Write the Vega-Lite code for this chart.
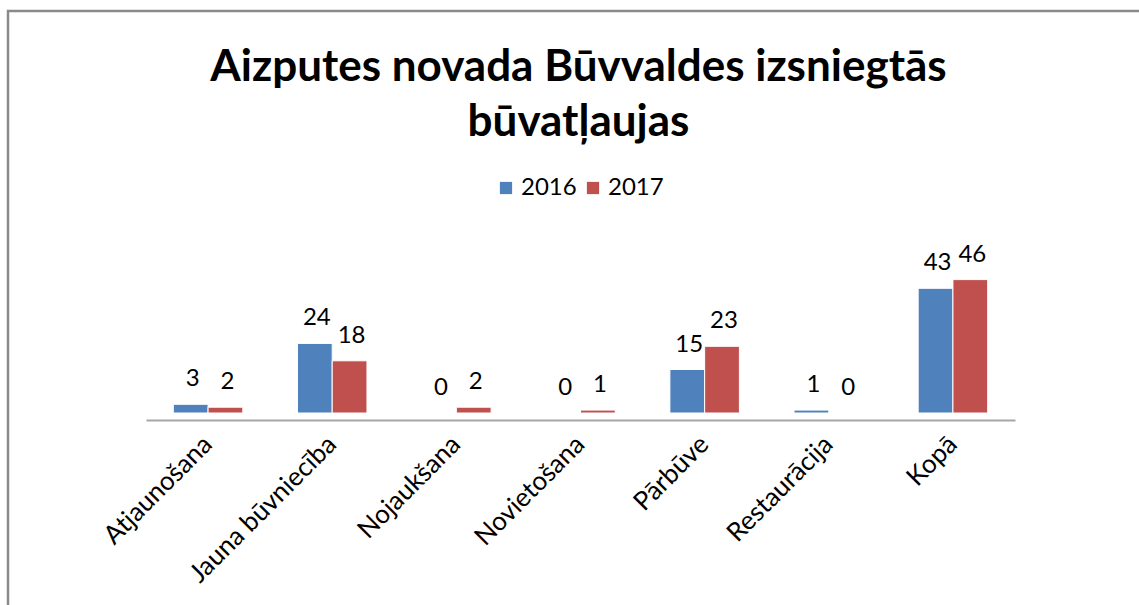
{
  "$schema": "https://vega.github.io/schema/vega-lite/v6.json",
  "autosize": {"type": "none"},
  "padding": {"left": 8, "top": 11, "right": 0, "bottom": 0},
  "width": 1131,
  "height": 594,
  "background": "white",
  "title": {
    "text": ["Aizputes novada Būvvaldes izsniegtās", "būvatļaujas"],
    "font": "Lato",
    "fontSize": 44,
    "fontWeight": "bold",
    "lineHeight": 55,
    "color": "#000000",
    "anchor": "middle",
    "dx": 5,
    "offset": -134
  },
  "data": {
    "values": [
      {"kategorija": "Atjaunošana", "gads": "2016", "skaits": 3},
      {"kategorija": "Atjaunošana", "gads": "2017", "skaits": 2},
      {"kategorija": "Jauna būvniecība", "gads": "2016", "skaits": 24},
      {"kategorija": "Jauna būvniecība", "gads": "2017", "skaits": 18},
      {"kategorija": "Nojaukšana", "gads": "2016", "skaits": 0},
      {"kategorija": "Nojaukšana", "gads": "2017", "skaits": 2},
      {"kategorija": "Novietošana", "gads": "2016", "skaits": 0},
      {"kategorija": "Novietošana", "gads": "2017", "skaits": 1},
      {"kategorija": "Pārbūve", "gads": "2016", "skaits": 15},
      {"kategorija": "Pārbūve", "gads": "2017", "skaits": 23},
      {"kategorija": "Restaurācija", "gads": "2016", "skaits": 1},
      {"kategorija": "Restaurācija", "gads": "2017", "skaits": 0},
      {"kategorija": "Kopā", "gads": "2016", "skaits": 43},
      {"kategorija": "Kopā", "gads": "2017", "skaits": 46}
    ]
  },
  "encoding": {
    "x": {
      "field": "kategorija",
      "type": "nominal",
      "sort": null,
      "scale": {"paddingInner": 0.44, "paddingOuter": 0.22, "range": [138, 1007]},
      "axis": {
        "title": null,
        "labelAngle": -45,
        "labelAlign": "right",
        "labelBaseline": "middle",
        "labelFont": "Lato",
        "labelFontSize": 26,
        "labelColor": "#000000",
        "labelPadding": 20,
        "labelLimit": 0,
        "ticks": false,
        "domainColor": "#a6a6a6",
        "domainWidth": 2,
        "offset": -185
      }
    },
    "xOffset": {"field": "gads", "type": "nominal", "scale": {"paddingInner": 0}},
    "y": {
      "field": "skaits",
      "type": "quantitative",
      "scale": {"domain": [0, 70], "nice": false, "range": [402, 199]},
      "axis": null
    }
  },
  "layer": [
    {
      "mark": {"type": "bar", "stroke": "white", "strokeWidth": 1},
      "encoding": {
        "color": {
          "field": "gads",
          "type": "nominal",
          "scale": {"domain": ["2016", "2017"], "range": ["#4f81bd", "#c0504d"]},
          "legend": {
            "title": null,
            "orient": "none",
            "direction": "horizontal",
            "legendX": 486,
            "legendY": 165,
            "symbolType": "square",
            "symbolSize": 150,
            "symbolStrokeWidth": 0,
            "labelFont": "Lato",
            "labelFontSize": 24,
            "labelColor": "#000000",
            "columnPadding": 4,
            "labelOffset": 3
          }
        }
      }
    },
    {
      "mark": {"type": "text", "baseline": "bottom", "dy": -13, "dx": 2, "font": "Lato", "fontSize": 24, "color": "#000000"},
      "encoding": {
        "text": {"field": "skaits", "type": "quantitative"}
      }
    }
  ],
  "config": {"view": {"stroke": "#8a8a8a", "strokeWidth": 2.5, "strokeDash": [1131, 1725, 700]}}
}
